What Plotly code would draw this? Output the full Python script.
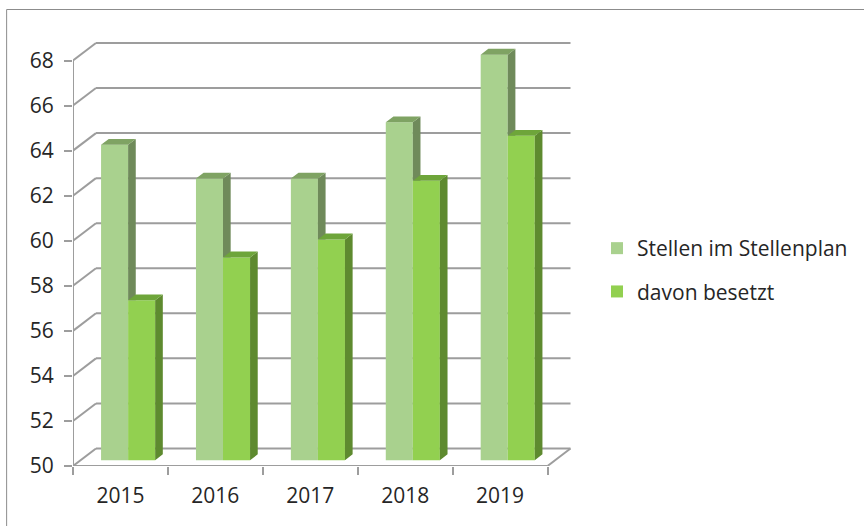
import plotly.graph_objects as go

# ---- data ----
years = ["2015", "2016", "2017", "2018", "2019"]
stellen = [64.0, 62.5, 62.5, 65.0, 68.0]
besetzt = [57.1, 59.0, 59.8, 62.4, 64.4]
series_names = ["Stellen im Stellenplan", "davon besetzt"]
y_ticks = list(range(50, 69, 2))

# ---- styling / pseudo-3D geometry (in axis units) ----
FRONT = ["#a9d18e", "#92d050"]
SIDE = ["#6f8a5a", "#5e8a2f"]
TOP = ["#7fa363", "#6ea53a"]
GRID = "#9d9d9d"
TXT = "#262626"
FONT = "Open Sans"

DX, DY = 0.242, 0.778          # full depth offset of the back wall
d0 = 1 / 3                     # bar front plane depth
bdx, bdy = DX / 3, DY / 3      # bar depth
W = 0.285                      # bar width
BASE = 50
XR = [-0.5, 4.8]
YR = [50, 69]

ML, MR, MT, MB = 73, 287, 38, 60
FW, FH = 864, 526
PW, PH = FW - ML - MR, FH - MT - MB

fig = go.Figure()

values = [stellen, besetzt]
idx = list(range(len(years)))

# front faces as bars
for s in range(2):
    xs = [i + DX * d0 + (-W / 2 if s == 0 else W / 2) for i in idx]
    fig.add_trace(go.Bar(
        x=xs, y=[v - BASE for v in values[s]], base=BASE + DY * d0,
        width=W, marker=dict(color=FRONT[s], line=dict(width=0)),
        name=series_names[s], legendgroup=series_names[s],
        hoverinfo="skip",
    ))

# side and top faces
for s in range(2):
    sx, sy, tx, ty = [], [], [], []
    for i in idx:
        xl = i + DX * d0 + (-W if s == 0 else 0)
        xr = xl + W
        yb = BASE + DY * d0
        yt = values[s][i] + DY * d0
        lo = yb
        if s == 0:
            lo = min(max(yb, besetzt[i] + DY * d0), yt)
        sx += [xr, xr, xr + bdx, xr + bdx, xr, None]
        sy += [lo, yt, yt + bdy, max(lo, yb + bdy), lo, None]
        tx += [xl, xr, xr + bdx, xl + bdx, xl, None]
        ty += [yt, yt, yt + bdy, yt + bdy, yt, None]
    fig.add_trace(go.Scatter(x=sx, y=sy, fill="toself", fillcolor=SIDE[s],
                             mode="lines", line=dict(width=0, color=SIDE[s]),
                             showlegend=False, hoverinfo="skip"))
    fig.add_trace(go.Scatter(x=tx, y=ty, fill="toself", fillcolor=TOP[s],
                             mode="lines", line=dict(width=0, color=TOP[s]),
                             showlegend=False, hoverinfo="skip"))

# empty trace to host the boundary-tick axis
fig.add_trace(go.Scatter(x=[], y=[], xaxis="x2", showlegend=False, hoverinfo="skip"))

# walls / gridlines as shapes behind the bars
shapes = []
x0, x1 = -0.5, len(years) - 0.5
for t in y_ticks:
    shapes.append(dict(type="line", xref="x", yref="y", x0=x0 + DX, x1=x1 + DX,
                       y0=t + DY, y1=t + DY, line=dict(color=GRID, width=2), layer="below"))
    shapes.append(dict(type="line", xref="x", yref="y", x0=x0, x1=x0 + DX,
                       y0=t, y1=t + DY, line=dict(color=GRID, width=2), layer="below"))
shapes.append(dict(type="line", xref="x", yref="y", x0=x0, x1=x1, y0=BASE, y1=BASE,
                   line=dict(color=GRID, width=2), layer="below"))
shapes.append(dict(type="line", xref="x", yref="y", x0=x1, x1=x1 + DX, y0=BASE, y1=BASE + DY,
                   line=dict(color=GRID, width=2), layer="below"))
shapes.append(dict(type="line", xref="x", yref="y", x0=x0, x1=x0, y0=BASE, y1=y_ticks[-1],
                   line=dict(color=GRID, width=2), layer="below"))

# chart border (left and top)
def px_x(p):
    return (p - ML) / PW

def px_y(p):
    return (FH - MB - p) / PH

shapes.append(dict(type="line", xref="paper", yref="paper", x0=px_x(6.5), x1=px_x(6.5),
                   y0=px_y(9.5), y1=px_y(530), line=dict(color="#8c8c8c", width=1)))
shapes.append(dict(type="line", xref="paper", yref="paper", x0=px_x(6.5), x1=px_x(870),
                   y0=px_y(9.5), y1=px_y(9.5), line=dict(color="#8c8c8c", width=1)))

fig.update_layout(
    width=FW, height=FH,
    margin=dict(l=ML, r=MR, t=MT, b=MB, pad=0),
    paper_bgcolor="white", plot_bgcolor="white",
    barmode="overlay",
    shapes=shapes,
    font=dict(family=FONT, size=21, color=TXT),
    xaxis=dict(range=XR, tickvals=idx, ticktext=years, ticks="", showgrid=False,
               zeroline=False, showline=False, ticklabelstandoff=15,
               tickfont=dict(size=21, family=FONT, color=TXT)),
    xaxis2=dict(range=XR, overlaying="x", anchor="y", side="bottom",
                tickvals=[i - 0.5 for i in range(len(years) + 1)],
                ticks="outside", ticklen=8, tickwidth=2, tickcolor=GRID,
                showticklabels=False, showgrid=False, zeroline=False, showline=False),
    yaxis=dict(range=YR, tickvals=y_ticks, ticks="outside", ticklen=8, tickwidth=2,
               tickcolor=GRID, showgrid=False, zeroline=False, showline=False,
               ticklabelstandoff=6, tickfont=dict(size=21, family=FONT, color=TXT)),
    legend=dict(x=px_x(597), y=px_y(270), xanchor="left", yanchor="middle",
                traceorder="grouped", tracegroupgap=13,
                font=dict(size=21, family=FONT, color=TXT), bgcolor="rgba(0,0,0,0)"),
)

fig.write_html("out.html")
